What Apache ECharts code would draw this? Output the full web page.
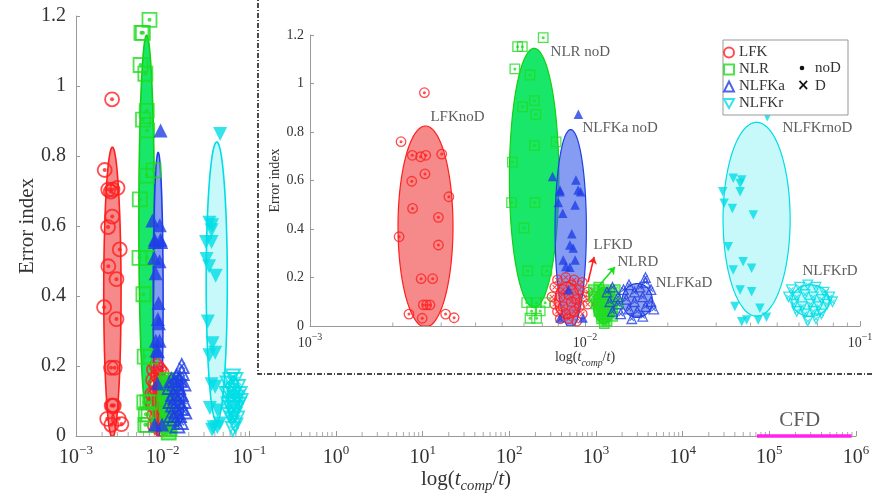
<!DOCTYPE html>
<html>
<head>
<meta charset="utf-8">
<script src="https://cdn.jsdelivr.net/npm/echarts@6/dist/echarts.min.js"></script>
<style>
  html, body { margin: 0; padding: 0; background: #fff; }
  #chart { width: 873px; height: 496px; }
</style>
</head>
<body>
<div id="chart"></div>
<script>
// points as [log10(t_comp/t), error index]
const lfkNoD = [[-2.584,0.962],[-2.669,0.760],[-2.628,0.704],[-2.598,0.698],[-2.579,0.704],[-2.521,0.709],[-2.582,0.627],[-2.630,0.597],[-2.495,0.533],[-2.627,0.485],[-2.533,0.448],[-2.676,0.368],[-2.533,0.334],[-2.596,0.195],[-2.554,0.195],[-2.588,0.087],[-2.576,0.087],[-2.564,0.087],[-2.640,0.049],[-2.592,0.032],[-2.507,0.049],[-2.476,0.034]];
const nlrNoD = [[-2.245,1.152],[-2.228,1.152],[-2.152,1.189],[-2.255,1.060],[-2.200,1.035],[-2.227,0.904],[-2.184,0.929],[-2.179,0.873],[-2.105,0.759],[-2.184,0.744],[-2.264,0.676],[-2.267,0.509],[-2.182,0.509],[-2.222,0.405],[-2.208,0.227],[-2.139,0.227],[-2.212,0.096],[-2.176,0.096],[-2.145,0.096],[-2.194,0.062],[-2.163,0.062],[-2.200,0.032],[-2.176,0.032]];
const nlfkaNoD = [[-2.024,0.873],[-2.118,0.616],[-2.033,0.602],[-2.091,0.554],[-2.016,0.554],[-2.097,0.509],[-2.036,0.499],[-2.081,0.465],[-2.055,0.334],[-2.043,0.322],[-2.079,0.272],[-2.055,0.242],[-2.036,0.272],[-2.091,0.561],[-2.025,0.561],[-2.070,0.245],[-2.091,0.033],[-2.007,0.033],[-2.048,0.380],[-2.060,0.150]];
const nlfkrNoD = [[-1.337,0.863],[-1.461,0.609],[-1.430,0.602],[-1.499,0.554],[-1.436,0.554],[-1.436,0.588],[-1.494,0.506],[-1.464,0.485],[-1.388,0.458],[-1.479,0.327],[-1.425,0.265],[-1.394,0.238],[-1.461,0.231],[-1.436,0.148],[-1.394,0.141],[-1.455,0.080],[-1.364,0.073],[-1.430,0.018],[-1.412,0.025],[-1.370,0.025],[-1.340,0.036]];

const lfkD = [[-2.10,0.19],[-2.07,0.20],[-2.04,0.19],[-2.01,0.18],[-2.11,0.16],[-2.08,0.15],[-2.05,0.17],[-2.02,0.15],[-1.99,0.14],[-2.12,0.12],[-2.09,0.12],[-2.06,0.13],[-2.03,0.11],[-2.00,0.12],[-2.11,0.09],[-2.08,0.08],[-2.05,0.10],[-2.02,0.08],[-1.99,0.09],[-2.10,0.06],[-2.07,0.05],[-2.04,0.06],[-2.01,0.05],[-2.06,0.03],[-2.03,0.02],[-2.09,0.03]];
const nlrD = [[-1.97,0.15],[-1.95,0.16],[-1.93,0.15],[-1.91,0.14],[-1.89,0.15],[-1.97,0.12],[-1.95,0.11],[-1.93,0.13],[-1.91,0.12],[-1.89,0.11],[-1.96,0.09],[-1.94,0.08],[-1.92,0.09],[-1.90,0.07],[-1.88,0.09],[-1.95,0.06],[-1.93,0.05],[-1.91,0.06],[-1.94,0.03],[-1.92,0.02],[-1.93,0.01],[-1.90,0.04]];
const nlfkaD = [[-1.92,0.14],[-1.90,0.16],[-1.88,0.12],[-1.86,0.15],[-1.84,0.17],[-1.82,0.14],[-1.80,0.16],[-1.78,0.18],[-1.76,0.15],[-1.91,0.10],[-1.88,0.09],[-1.85,0.11],[-1.82,0.10],[-1.79,0.12],[-1.76,0.10],[-1.90,0.06],[-1.87,0.05],[-1.84,0.07],[-1.81,0.06],[-1.78,0.08],[-1.75,0.07],[-1.83,0.03],[-1.79,0.04],[-1.78,0.20]];
const nlfkrD = [[-1.25,0.15],[-1.22,0.16],[-1.19,0.17],[-1.16,0.16],[-1.13,0.14],[-1.26,0.12],[-1.23,0.12],[-1.20,0.13],[-1.17,0.12],[-1.14,0.11],[-1.11,0.12],[-1.24,0.09],[-1.21,0.08],[-1.18,0.09],[-1.15,0.08],[-1.12,0.09],[-1.10,0.10],[-1.23,0.06],[-1.20,0.05],[-1.17,0.06],[-1.14,0.05],[-1.19,0.02],[-1.16,0.03]];

// ellipses: [log10 centre, centre y, half width in decades, half height]
const ellNoD = [[-2.58,0.41,0.10,0.415],[-2.185,0.61,0.09,0.535],[-2.052,0.40,0.057,0.41],[-1.376,0.44,0.122,0.40]];
const ellD = [[-2.065,0.105,0.045,0.075],[-1.93,0.085,0.04,0.075],[-1.81,0.105,0.055,0.07],[-1.18,0.105,0.068,0.065]];

const cfdRange = [72000, 890000];
const cfdLabelX = 224000;

const insetNotes = ['LFKnoD','NLR noD','NLFKa noD','NLFKrnoD','LFKD','NLRD','NLFKaD','NLFKrD'];
const insetNoteAt = [[-2.564,0.862],[-2.127,1.13],[-2.011,0.816],[-1.284,0.816],[-1.971,0.334],[-1.884,0.264],[-1.745,0.177],[-1.211,0.227]];
const redArrow = [[-1.989,0.181],[-1.967,0.285]];
const greenArrow = [[-1.953,0.161],[-1.891,0.243]];

const SERIF = "'Liberation Serif', 'DejaVu Serif', serif";
const RED = '#ff1f1f', GREEN = '#1fdc1f', BLUE = '#1f3fe6', CYAN = '#00dde6';
const CROSS = 'path://M0,0L10,10M10,0L0,10';
const DOWN = 'path://M0,0L10,0L5,9Z';

const groups = [
  { name: 'LFK', color: RED, shape: 'circle', solid: false, down: false, dMarkFill: 'rgba(0,0,0,0)',
    noDFill: 'rgba(238,40,40,0.55)', noDStroke: RED, dFill: 'rgba(240,70,90,0.45)' },
  { name: 'NLR', color: GREEN, shape: 'rect', solid: false, down: false, dMarkFill: 'rgba(40,220,40,0.6)',
    noDFill: 'rgba(0,228,90,0.9)', noDStroke: '#12d012', dFill: 'rgba(30,220,40,0.85)' },
  { name: 'NLFKa', color: BLUE, shape: 'triangle', solid: true, down: false, dMarkFill: 'rgba(0,0,0,0)',
    noDFill: 'rgba(60,95,235,0.62)', noDStroke: BLUE, dFill: 'rgba(60,90,220,0.55)' },
  { name: 'NLFKr', color: CYAN, shape: 'triangle', solid: true, down: true, dMarkFill: 'rgba(0,0,0,0)',
    noDFill: 'rgba(0,225,230,0.22)', noDStroke: CYAN, dFill: 'rgba(0,225,230,0.22)' }
];
const noDSets = [lfkNoD, nlrNoD, nlfkaNoD, nlfkrNoD];
const dSets = [lfkD, nlrD, nlfkaD, nlfkrD];

// per grid: 0 = main, 1 = inset
const SIZES = [
  { mark: 14, dot: 4, lw: 1.8, ell: 1.6, z: 2 },
  { mark: 9.5, dot: 3, lw: 1.3, ell: 1.2, z: 22 }
];

const toXY = p => [Math.pow(10, p[0]), p[1]];

function ellipseItem(params, api) {
  const cx = Math.log10(api.value(0)), cy = api.value(1), rx = api.value(2), ry = api.value(3);
  const g = groups[api.value(4)];
  const isD = api.value(5) === 1;
  const pts = [];
  for (let i = 0; i <= 90; i++) {
    const t = i / 90 * 2 * Math.PI;
    pts.push(api.coord([Math.pow(10, cx + rx * Math.cos(t)), Math.max(0, cy + ry * Math.sin(t))]));
  }
  return {
    type: 'polygon',
    shape: { points: pts },
    style: { fill: isD ? g.dFill : g.noDFill, stroke: g.noDStroke, lineWidth: api.value(6) }
  };
}

function minorTickItem(params, api) {
  const p = api.coord([api.value(0), 0]);
  const len = api.value(1);
  return { type: 'line', shape: { x1: p[0], y1: p[1], x2: p[0], y2: p[1] - len },
    style: { stroke: '#aaa', lineWidth: 1 } };
}

function buildSeries(gi) {
  const sz = SIZES[gi];
  const out = [];
  const ellData = [];
  ellNoD.forEach((e, k) => ellData.push([Math.pow(10, e[0]), e[1], e[2], e[3], k, 0, sz.ell]));
  ellD.forEach((e, k) => ellData.push([Math.pow(10, e[0]), e[1], e[2], e[3], k, 1, sz.ell]));
  out.push({ type: 'custom', xAxisIndex: gi, yAxisIndex: gi, silent: true, z: sz.z,
    renderItem: ellipseItem, encode: { x: 0, y: 1 }, data: ellData, clip: true });

  groups.forEach((g, k) => {
    const base = { type: 'scatter', xAxisIndex: gi, yAxisIndex: gi, silent: true,
      symbol: g.shape, symbolRotate: g.down ? 180 : 0, z: sz.z + 1 };
    const noD = noDSets[k].map(toXY);
    const d = dSets[k].map(toXY);
    const legendName = gi === 1 ? g.name : g.name + ' main';
    if (g.solid) {
      out.push(Object.assign({}, base, { name: legendName, data: noD, symbolSize: sz.mark,
        itemStyle: { color: g.color } }));
    } else {
      out.push(Object.assign({}, base, { name: legendName, data: noD, symbolSize: sz.mark,
        itemStyle: { color: 'rgba(0,0,0,0)', borderColor: g.color, borderWidth: sz.lw } }));
      out.push(Object.assign({}, base, { symbol: 'circle', symbolRotate: 0, data: noD,
        symbolSize: sz.dot, itemStyle: { color: g.color } }));
    }
    out.push(Object.assign({}, base, { data: d, symbolSize: sz.mark,
      itemStyle: { color: g.dMarkFill, borderColor: g.color, borderWidth: sz.lw } }));
    out.push(Object.assign({}, base, { symbol: CROSS, symbolRotate: 0, data: d,
      symbolSize: sz.mark * 0.45,
      itemStyle: { color: 'rgba(0,0,0,0)', borderColor: g.color, borderWidth: sz.lw * 0.8 } }));
  });
  return out;
}

// minor ticks 2..9 inside each decade
function minorTicks(fromExp, toExp, len) {
  const arr = [];
  for (let e = fromExp; e < toExp; e++) {
    for (let m = 2; m <= 9; m++) arr.push([m * Math.pow(10, e), len]);
  }
  return arr;
}

function expLabel(v) {
  const e = Math.round(Math.log10(v));
  return '{b|10}{s|' + (e < 0 ? '\u2212' + (-e) : e) + '}';
}

function logAxis(gi, min, max, split, big, small, nameSize, nameGap, z) {
  return {
    type: 'log', logBase: 10, gridIndex: gi, min: min, max: max, splitNumber: split, z: z,
    axisLine: { lineStyle: { color: '#999', width: 1 } },
    axisTick: { inside: true, length: 5, lineStyle: { color: '#999' } },
    splitLine: { show: false },
    axisLabel: {
      margin: gi === 0 ? 8 : 6, formatter: expLabel, color: '#333',
      rich: {
        b: { fontFamily: SERIF, fontSize: big, color: '#333', lineHeight: big + 4, verticalAlign: 'bottom' },
        s: { fontFamily: SERIF, fontSize: small, color: '#333', verticalAlign: 'top', lineHeight: small }
      }
    },
    name: '{n|log(}{i|t}{c|comp}{n|/}{i|t}{n|)}',
    nameLocation: 'middle', nameGap: nameGap, nameMoveOverlap: false,
    nameTextStyle: {
      rich: {
        n: { fontFamily: SERIF, fontSize: nameSize, color: '#333' },
        i: { fontFamily: SERIF, fontSize: nameSize, fontStyle: 'italic', color: '#333' },
        c: { fontFamily: SERIF, fontSize: nameSize * 0.7, fontStyle: 'italic', color: '#333',
             verticalAlign: 'bottom', padding: [0, 0, -4, 0] }
      }
    }
  };
}

function valAxis(gi, fontSize, nameSize, nameGap, z) {
  return {
    type: 'value', gridIndex: gi, min: 0, max: 1.2, interval: 0.2, z: z,
    axisLine: { show: true, lineStyle: { color: '#999', width: 1 } },
    axisTick: { show: true, inside: true, length: 4, lineStyle: { color: '#999' } },
    splitLine: { show: false },
    axisLabel: { fontFamily: SERIF, fontSize: fontSize, color: '#333', margin: gi === 0 ? 10 : 6 },
    name: 'Error index', nameLocation: 'middle', nameGap: nameGap, nameMoveOverlap: false,
    nameTextStyle: { fontFamily: SERIF, fontSize: nameSize, color: '#333' }
  };
}

const series = [];
series.push(...buildSeries(0));
series.push({
  type: 'line', xAxisIndex: 0, yAxisIndex: 0, data: cfdRange.map(v => [v, 0]),
  symbol: 'none', clip: false, silent: true, z: 6,
  lineStyle: { color: '#ff22ee', width: 3.5 }
});
series.push({
  type: 'scatter', xAxisIndex: 0, yAxisIndex: 0, data: [[cfdLabelX, 0]], symbolSize: 1,
  itemStyle: { color: 'rgba(0,0,0,0)' }, silent: true, z: 6,
  label: { show: true, position: 'top', distance: 5, formatter: 'CFD',
    fontFamily: SERIF, fontSize: 21, color: '#333' }
});
series.push({
  type: 'custom', xAxisIndex: 0, yAxisIndex: 0, silent: true, z: 1,
  renderItem: minorTickItem, encode: { x: 0 }, data: minorTicks(-3, 6, 4), clip: false
});
series.push(...buildSeries(1));
series.push({
  type: 'custom', xAxisIndex: 1, yAxisIndex: 1, silent: true, z: 21,
  renderItem: minorTickItem, encode: { x: 0 }, data: minorTicks(-3, -1, 3.5), clip: false
});
series.push({
  type: 'scatter', xAxisIndex: 1, yAxisIndex: 1, silent: true, z: 30,
  data: insetNoteAt.map((p, i) => ({ value: toXY(p), label: { formatter: insetNotes[i] } })),
  symbolSize: 1, itemStyle: { color: 'rgba(0,0,0,0)' },
  label: { show: true, position: 'right', distance: 0, fontFamily: SERIF, fontSize: 15, color: '#333' }
});
[[redArrow, RED], [greenArrow, GREEN]].forEach(a => {
  series.push({
    type: 'lines', coordinateSystem: 'cartesian2d', xAxisIndex: 1, yAxisIndex: 1,
    silent: true, z: 30, symbol: ['none', 'arrow'], symbolSize: 7,
    lineStyle: { color: a[1], width: 1.6, opacity: 1 },
    data: [{ coords: a[0].map(toXY) }]
  });
});

const chart = echarts.init(document.getElementById('chart'), null, { renderer: 'canvas' });
chart.setOption({
  animation: false,
  backgroundColor: '#fff',
  grid: [
    { left: 76, top: 16, width: 780, height: 420, outerBoundsMode: 'none', containLabel: false },
    { left: 310, top: 35, width: 550, height: 291, z: 20, outerBoundsMode: 'none', containLabel: false }
  ],
  xAxis: [
    logAxis(0, 1e-3, 1e6, 9, 20, 13, 21, 33, 0),
    logAxis(1, 1e-3, 1e-1, 2, 14, 10, 14, 24, 21)
  ],
  yAxis: [
    valAxis(0, 20, 21, 38, 0),
    valAxis(1, 14, 14, 28, 21)
  ],
  legend: {
    left: 718, top: 40, orient: 'vertical', selectedMode: false, z: 42,
    itemWidth: 10, itemHeight: 10, itemGap: 2,
    textStyle: { fontFamily: SERIF, fontSize: 15, color: '#333' },
    data: [
      { name: 'LFK', icon: 'circle', itemStyle: { color: 'rgba(0,0,0,0)', borderColor: RED, borderWidth: 2 } },
      { name: 'NLR', icon: 'rect', itemStyle: { color: 'rgba(0,0,0,0)', borderColor: GREEN, borderWidth: 2 } },
      { name: 'NLFKa', icon: 'triangle', itemStyle: { color: 'rgba(0,0,0,0)', borderColor: BLUE, borderWidth: 2 } },
      { name: 'NLFKr', icon: DOWN, itemStyle: { color: 'rgba(0,0,0,0)', borderColor: CYAN, borderWidth: 2 } }
    ]
  },
  graphic: [
    { type: 'rect', z: 10, silent: true, shape: { x: 258, y: -10, width: 700, height: 384 },
      style: { fill: '#fff', stroke: '#111', lineWidth: 1.5, lineDash: [5, 2, 1, 2] } },
    { type: 'rect', z: 40, silent: true, shape: { x: 723, y: 40, width: 125, height: 75 },
      style: { fill: '#fff', stroke: '#999', lineWidth: 1 } },
    { type: 'circle', z: 43, silent: true, shape: { cx: 802, cy: 68, r: 2.3 }, style: { fill: '#111' } },
    { type: 'text', z: 43, silent: true, x: 815, y: 68,
      style: { text: 'noD', font: "15px 'Liberation Serif', serif", fill: '#333', verticalAlign: 'middle' } },
    { type: 'text', z: 43, silent: true, x: 797, y: 86,
      style: { text: '\u00d7', font: "bold 15px 'DejaVu Sans', sans-serif", fill: '#111', verticalAlign: 'middle' } },
    { type: 'text', z: 43, silent: true, x: 815, y: 86,
      style: { text: 'D', font: "15px 'Liberation Serif', serif", fill: '#333', verticalAlign: 'middle' } }
  ],
  series: series
});
</script>
</body>
</html>
